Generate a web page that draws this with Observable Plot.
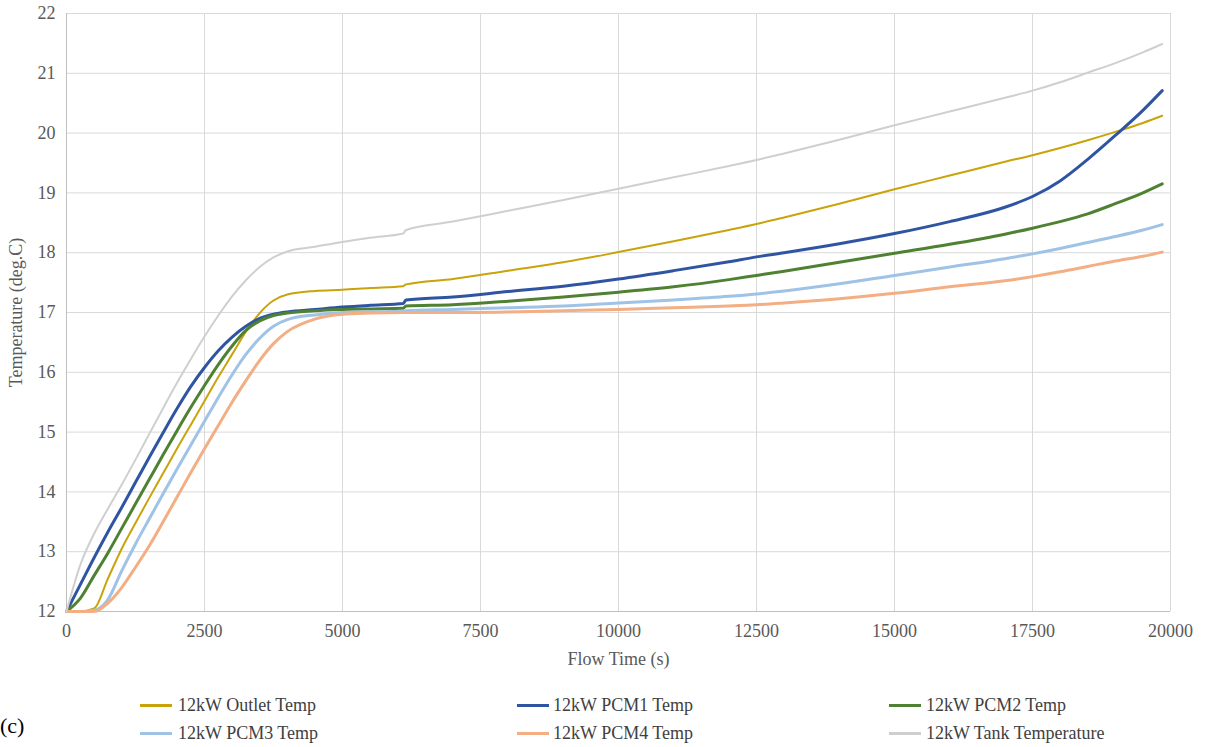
<!DOCTYPE html>
<html>
<head>
<meta charset="utf-8">
<script src="https://cdn.jsdelivr.net/npm/d3@7"></script>
<script src="https://cdn.jsdelivr.net/npm/@observablehq/plot@0.6"></script>
<style>
  body { margin: 0; background: #fff; }
  #wrap { position: relative; width: 1205px; height: 747px; font-family: "Liberation Serif", Tinos, "Times New Roman", Times, "DejaVu Serif", serif; }
  #wrap svg, #wrap svg text { font-family: "Liberation Serif", Tinos, "Times New Roman", Times, "DejaVu Serif", serif !important; }
  .sw { position: absolute; width: 32px; height: 3px; }
  .lt { position: absolute; font-size: 18px; color: #404040; line-height: 20px; white-space: nowrap; }
  #tag { position: absolute; left: 0px; top: 712px; font-size: 22px; color: #000; line-height: 28px; }
</style>
</head>
<body>
<div id="wrap"></div>
<script>
// Flow time (s)
const times = [0, 250, 500, 750, 1000, 1250, 1500, 1750, 2000, 2250, 2500, 2750, 3000, 3250, 3500, 3750, 4000, 4500, 5000, 5500, 6100, 6150, 7000, 8000, 9000, 10000, 11000, 12000, 12500, 13000, 14000, 15000, 16000, 17000, 17500, 18000, 18500, 19000, 19500, 19850];

// Temperatures (deg C)
const outletTemp = [12.0, 12.0, 12.05, 12.55, 13.05, 13.48, 13.9, 14.31, 14.72, 15.12, 15.52, 15.92, 16.3, 16.68, 16.99, 17.2, 17.3, 17.36, 17.38, 17.41, 17.44, 17.47, 17.56, 17.7, 17.84, 18.01, 18.19, 18.38, 18.48, 18.59, 18.82, 19.06, 19.29, 19.52, 19.63, 19.75, 19.88, 20.02, 20.17, 20.29];
const pcm1Temp = [12.0, 12.45, 12.9, 13.33, 13.74, 14.16, 14.58, 14.99, 15.39, 15.76, 16.08, 16.36, 16.59, 16.77, 16.9, 16.97, 17.01, 17.05, 17.09, 17.12, 17.15, 17.21, 17.26, 17.35, 17.44, 17.56, 17.7, 17.85, 17.93, 18.0, 18.15, 18.32, 18.52, 18.76, 18.94, 19.2, 19.56, 19.96, 20.38, 20.71];
const pcm2Temp = [12.0, 12.22, 12.6, 12.98, 13.39, 13.8, 14.21, 14.62, 15.02, 15.41, 15.78, 16.13, 16.44, 16.7, 16.86, 16.95, 16.99, 17.03, 17.05, 17.06, 17.07, 17.11, 17.13, 17.19, 17.26, 17.34, 17.43, 17.55, 17.62, 17.69, 17.84, 17.99, 18.14, 18.31, 18.41, 18.52, 18.65, 18.82, 19.0, 19.15];
const pcm3Temp = [12.0, 12.0, 12.02, 12.2, 12.68, 13.13, 13.55, 13.97, 14.38, 14.78, 15.18, 15.58, 15.96, 16.3, 16.57, 16.77, 16.88, 16.96, 17.0, 17.01, 17.02, 17.03, 17.05, 17.08, 17.11, 17.16, 17.21, 17.27, 17.31, 17.36, 17.48, 17.62, 17.76, 17.9, 17.98, 18.07, 18.17, 18.27, 18.38, 18.47];
const pcm4Temp = [12.0, 12.0, 12.0, 12.14, 12.4, 12.74, 13.1, 13.5, 13.91, 14.32, 14.72, 15.11, 15.5, 15.86, 16.2, 16.48, 16.68, 16.89, 16.97, 16.99, 17.0, 17.0, 17.0, 17.01, 17.03, 17.05, 17.08, 17.11, 17.13, 17.16, 17.23, 17.32, 17.43, 17.53, 17.6, 17.68, 17.77, 17.86, 17.94, 18.01];
const tankTemp = [12.0, 12.78, 13.3, 13.72, 14.12, 14.54, 14.97, 15.4, 15.82, 16.22, 16.6, 16.95, 17.27, 17.54, 17.76, 17.92, 18.02, 18.1, 18.18, 18.25, 18.32, 18.38, 18.52, 18.7, 18.88, 19.07, 19.26, 19.45, 19.55, 19.66, 19.89, 20.13, 20.36, 20.59, 20.71, 20.85, 21.01, 21.17, 21.35, 21.49];

const seriesNames = ["12kW Outlet Temp", "12kW PCM1 Temp", "12kW PCM2 Temp", "12kW PCM3 Temp", "12kW PCM4 Temp", "12kW Tank Temperature"];
const seriesValues = [outletTemp, pcm1Temp, pcm2Temp, pcm3Temp, pcm4Temp, tankTemp];
const seriesColors = ["#C9A30C", "#2F55A2", "#4F8132", "#9FC2E7", "#F3AE83", "#CFCFCF"];
const seriesWidths = [2, 3, 3, 3, 3, 2];

const xTicks = [0, 2500, 5000, 7500, 10000, 12500, 15000, 17500, 20000];
const yTicks = [12, 13, 14, 15, 16, 17, 18, 19, 20, 21, 22];

const serif = "'Liberation Serif', Tinos, 'Times New Roman', Times, 'DejaVu Serif', serif";

const lineMarks = seriesNames.map((name, i) =>
  Plot.line(times.map((t, j) => ({t, v: seriesValues[i][j]})), {
    x: "t", y: "v", stroke: seriesColors[i], strokeWidth: seriesWidths[i], curve: "monotone-x"
  })
);

const chart = Plot.plot({
  width: 1205,
  height: 672,
  marginTop: 13,
  marginRight: 35,
  marginBottom: 61,
  marginLeft: 66,
  style: {fontFamily: serif, fontSize: "18px", color: "#595959", background: "#fff"},
  x: {domain: [0, 20000]},
  y: {domain: [12, 22]},
  marks: [
    Plot.gridX(xTicks, {stroke: "#d9d9d9", strokeOpacity: 1}),
    Plot.gridY(yTicks, {stroke: "#d9d9d9", strokeOpacity: 1}),
    Plot.ruleY([12], {stroke: "#bfbfbf"}),
    Plot.ruleX([0], {stroke: "#bfbfbf"}),
    Plot.axisX(xTicks, {tickSize: 0, tickPadding: 13, tickFormat: d => String(d), label: "Flow Time (s)", labelAnchor: "center", labelArrow: "none", labelOffset: 53}),
    Plot.axisY(yTicks, {tickSize: 0, tickPadding: 11, tickFormat: d => String(d), label: "Temperature (deg.C)", labelAnchor: "center", labelArrow: "none", labelOffset: 57}),
    ...lineMarks
  ]
});

const wrap = document.getElementById("wrap");
wrap.appendChild(chart);

const legendPos = [
  {sx: 140, tx: 178, y: 705}, {sx: 517, tx: 553, y: 705}, {sx: 889, tx: 926, y: 705},
  {sx: 140, tx: 178, y: 733}, {sx: 517, tx: 553, y: 733}, {sx: 889, tx: 926, y: 733}
];
seriesNames.forEach((name, i) => {
  const p = legendPos[i];
  const sw = document.createElement("div");
  sw.className = "sw";
  sw.style.left = p.sx + "px";
  sw.style.top = (p.y - 1.5) + "px";
  sw.style.background = seriesColors[i];
  wrap.appendChild(sw);
  const lt = document.createElement("div");
  lt.className = "lt";
  lt.style.left = p.tx + "px";
  lt.style.top = (p.y - 10) + "px";
  lt.textContent = name;
  wrap.appendChild(lt);
});
const tag = document.createElement("div");
tag.id = "tag";
tag.textContent = "(c)";
wrap.appendChild(tag);
</script>
</body>
</html>
